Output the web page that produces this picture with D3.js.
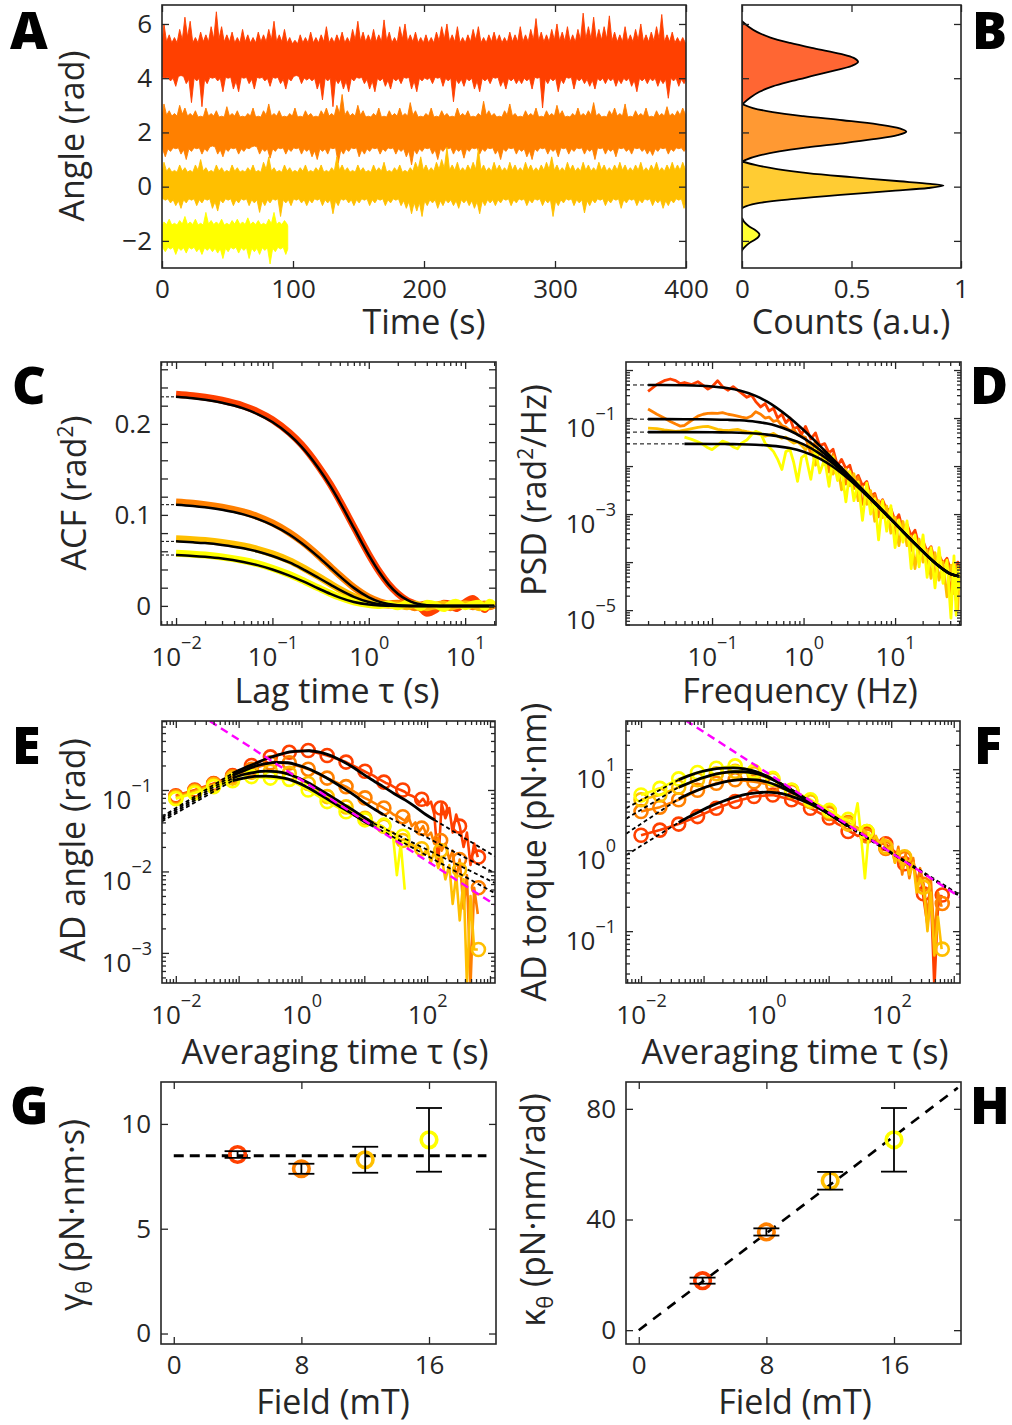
<!DOCTYPE html>
<html lang="en">
<head>
<meta charset="UTF-8">
<title>Angle fluctuations versus field</title>
<script src="https://d3js.org/d3.v7.min.js"></script>
<style>
  body { margin: 0; background: #fff; }
</style>
</head>
<body>
<script>
// one colour per field strength, red = 4 mT ... yellow = 16 mT
const seriesColors = ["#ff4000", "#ff8000", "#ffbf00", "#ffff00"];

// ---------- A: angle traces (rad), max / min in each 4 s window ----------
const traceRedHi = [6.0,5.6,5.5,5.8,6.25,6.1,5.5,5.7,5.6,5.9, 6.45,5.9,5.6,5.7,5.5,5.8,5.6,5.5,5.7,5.6,
  5.8,6.1,5.6,5.8,5.5,5.4,5.6,5.5,5.7,5.5, 5.6,5.9,5.5,5.6,5.7,5.5,5.8,6.1,5.7,5.6,
  5.8,5.6,6.15,5.7,5.5,5.9,6.0,5.6,5.7,5.5, 5.6,5.5,5.7,5.9,6.0,5.6,5.9,5.5,5.6,5.8,
  5.9,5.5,5.6,5.7,5.6,5.5,5.7,5.6,5.9,5.6, 5.8,6.2,5.7,5.6,5.8,6.0,5.7,5.9,5.6,5.8,
  6.4,5.9,6.25,5.8,5.9,6.3,5.7,5.6,5.9,5.6, 5.8,6.0,5.6,5.7,5.9,6.35,5.6,5.7,5.5,5.5];
const traceRedLo = [4.0,3.9,3.7,4.1,3.8,3.1,3.9,2.95,3.8,4.0, 3.9,3.5,4.0,3.6,3.5,4.0,3.8,3.6,4.0,3.9,
  3.7,4.0,3.8,3.6,3.9,4.1,3.8,3.93,3.9,3.6, 3.2,3.9,2.95,3.8,3.6,3.5,3.9,4.0,3.8,3.6,
  3.5,3.9,3.7,3.6,3.9,3.8,4.0,3.6,3.5,3.9, 3.95,3.8,4.0,3.7,3.9,3.13,3.8,3.7,3.9,3.6,
  3.5,3.9,3.8,4.0,3.7,3.6,3.9,3.8,3.8,3.9, 3.6,4.0,2.9,3.8,3.9,3.5,3.8,4.0,3.6,3.9,
  3.8,3.7,3.6,3.9,3.8,3.9,3.7,3.8,3.9,3.7, 3.5,3.9,3.8,3.9,3.7,3.8,3.26,3.9,3.7,3.8];
const traceOrangeHi = [3.05,2.8,2.7,3.0,2.9,2.7,2.8,2.6,2.9,2.7, 2.8,2.6,2.95,2.7,2.8,2.6,2.7,2.9,2.6,2.8,
  3.05,2.7,2.8,2.6,2.7,2.9,2.6,2.8,2.7,2.6, 2.8,2.9,2.7,3.0,3.4,2.8,2.7,3.0,2.8,2.6,
  2.7,2.9,2.6,2.8,2.7,2.9,2.7,3.1,2.8,2.6, 2.7,2.9,2.6,2.8,2.7,2.6,2.9,2.7,2.8,2.6,
  2.7,3.15,2.8,2.7,2.6,2.8,3.05,2.7,2.6,2.8, 2.7,2.9,2.6,2.8,2.7,3.0,2.8,2.6,2.7,2.9,
  2.7,2.8,3.1,2.7,2.6,2.8,2.9,2.7,3.05,2.6, 2.8,2.7,2.9,2.6,2.8,2.7,2.95,2.7,2.8,2.9];
const traceOrangeLo = [1.1,1.3,1.4,1.2,1.0,1.3,1.4,1.2,1.3,1.5, 1.2,1.1,1.3,1.4,1.2,1.3,1.4,1.5,1.2,1.3,
  1.05,1.3,1.4,1.2,1.3,1.4,1.2,1.3,1.1,1.0, 1.3,1.2,1.4,0.86,1.2,1.3,1.4,1.1,1.2,1.3,
  1.4,1.2,1.3,1.4,1.2,1.3,1.1,0.8,1.2,1.3, 1.4,1.2,1.0,1.3,1.4,1.2,1.3,1.05,1.3,1.4,
  1.2,1.3,1.4,1.2,1.0,1.3,1.4,1.2,1.3,1.1, 1.0,1.3,1.4,1.2,1.3,1.1,1.4,1.2,1.3,1.4,
  1.2,1.3,1.0,1.4,1.2,1.3,1.1,1.4,1.3,1.2, 1.4,1.3,1.2,1.15,1.3,1.4,1.2,1.3,1.4,1.3];
const traceAmberHi = [0.9,0.7,0.6,0.8,0.7,0.6,0.8,1.0,0.7,0.6, 0.8,0.7,0.6,0.8,0.7,0.6,0.7,0.8,0.6,0.9,
  1.1,0.7,0.6,0.8,0.7,0.6,0.7,0.8,0.6,0.7, 0.8,0.6,0.7,1.1,0.8,0.7,0.6,0.8,0.7,0.6,
  0.8,0.7,0.9,0.6,0.7,0.8,0.6,0.7,0.9,1.1, 0.8,0.7,0.9,1.0,1.45,0.8,0.9,0.7,0.8,0.9,
  1.4,0.8,0.7,0.9,0.8,0.7,0.9,0.8,0.7,0.9, 0.8,0.7,0.8,0.9,1.1,0.8,0.7,0.9,0.8,0.7,
  0.9,0.8,0.7,0.9,0.8,0.7,0.8,0.9,0.8,0.7, 0.8,0.9,0.7,0.8,0.9,0.7,0.8,0.9,0.8,0.9];
const traceAmberLo = [-0.5,-0.6,-0.7,-0.8,-0.6,-0.5,-0.7,-0.6,-0.5,-0.8, -0.9,-0.6,-0.5,-0.7,-0.6,-0.5,-0.7,-0.6,-0.95,-0.7,
  -0.6,-0.5,-1.1,-0.6,-0.7,-0.5,-0.6,-0.7,-0.6,-0.5, -0.7,-0.6,-1.0,-0.7,-0.5,-0.6,-0.7,-0.6,-0.5,-0.7,
  -0.6,-0.5,-0.7,-0.6,-0.5,-0.7,-0.8,-1.0,-0.9,-1.1, -0.7,-0.6,-0.8,-0.7,-0.6,-0.7,-0.8,-0.6,-0.7,-0.8,
  -1.0,-0.7,-0.6,-0.7,-0.6,-0.5,-0.7,-0.6,-0.5,-0.7, -0.6,-0.5,-0.7,-0.6,-1.1,-0.7,-0.6,-0.5,-0.7,-0.6,
  -0.97,-0.7,-0.6,-0.5,-0.7,-0.6,-0.5,-0.8,-0.6,-0.5, -0.7,-0.6,-0.5,-0.7,-0.6,-0.8,-0.7,-0.6,-0.5,-0.8];
const traceYellowHi = [-1.3,-1.2,-1.35,-1.25,-1.1,-1.3,-1.2,-1.35,-0.95,-1.25,-1.3,-1.2,
  -1.35,-1.25,-1.2,-1.3,-1.15,-1.3,-1.25,-1.35,-1.2,-0.95,-1.3,-1.25];
const traceYellowLo = [-2.4,-2.3,-2.5,-2.35,-2.45,-2.3,-2.4,-2.5,-2.35,-2.4,-2.45,-2.65,
  -2.4,-2.3,-2.45,-2.35,-2.65,-2.4,-2.5,-2.35,-2.85,-2.4,-2.3,-2.5];
// dense core of each trace [low, high]
const traceCore = [[4.05, 5.2], [1.45, 2.55], [-0.42, 0.5], [-2.2, -1.45]];

// ---------- B: angle histograms ----------
const histRedAngle = [6.1,5.9,5.7,5.5,5.3,5.1,4.9,4.75,4.6,4.45,4.3,4.1,3.9,3.7,3.5,3.3,3.1,3.0];
const histRedCount = [0,0.03,0.07,0.13,0.22,0.33,0.45,0.51,0.53,0.5,0.43,0.33,0.23,0.14,0.08,0.04,0.01,0];
const histOrangeAngle = [3.05,2.9,2.75,2.6,2.45,2.3,2.15,2.03,1.9,1.75,1.6,1.45,1.3,1.15,1.0,0.92];
const histOrangeCount = [0,0.05,0.14,0.28,0.46,0.62,0.72,0.75,0.71,0.6,0.46,0.3,0.17,0.08,0.02,0];
const histAmberAngle = [0.93,0.8,0.65,0.5,0.35,0.2,0.1,0.04,-0.05,-0.15,-0.3,-0.45,-0.6,-0.72,-0.8];
const histAmberCount = [0,0.06,0.16,0.3,0.5,0.72,0.86,0.92,0.85,0.7,0.45,0.24,0.08,0.02,0];
const histYellowAngle = [-1.15,-1.3,-1.45,-1.6,-1.7,-1.77,-1.85,-1.95,-2.1,-2.25,-2.35];
const histYellowCount = [0,0.01,0.03,0.06,0.075,0.08,0.075,0.06,0.03,0.01,0];

// ---------- C: autocorrelation (rad^2) ----------
const acfLag = [0.01,0.015,0.02,0.03,0.05,0.07,0.1,0.15,0.2,0.3,0.4,0.5,0.7,1,1.3,1.6,2,2.5,3,3.5,4,5,6,7,8,10,12,14,16,18,20];
const acfRed = [0.2326,0.231,0.2293,0.226,0.2197,0.2135,0.2046,0.1903,0.1774,0.1535,0.1335,0.1156,0.0868,0.0565,0.0369,0.024,
  0.0135,0.006,0.002,-0.003,-0.008,-0.004,0.003,0.002,-0.003,0.004,0.008,0.002,-0.004,0.003,0.0];
const acfOrange = [0.1141,0.1127,0.1113,0.1085,0.1032,0.0982,0.0911,0.0804,0.071,0.0553,0.043,0.0335,0.0203,0.0096,0.0045,0.0021,
  0.003,0.001,-0.002,0.001,0.002,-0.001,0.002,-0.002,0.001,0.002,-0.001,0.001,0.002,-0.001,0.001];
const acfAmber = [0.0739,0.0728,0.0718,0.0698,0.0659,0.0622,0.0571,0.0497,0.0429,0.0322,0.0242,0.0182,0.0103,0.0044,0.0019,0.0008,
  0.001,-0.001,0.002,0.0,-0.002,0.001,0.002,-0.001,0.0,0.002,0.001,-0.002,0.001,0.002,0.0];
const acfYellow = [0.0578,0.0568,0.0558,0.0538,0.0499,0.0464,0.0414,0.0344,0.0286,0.0198,0.0137,0.0094,0.0045,0.0015,0.0005,0.002,
  -0.001,0.003,0.001,-0.002,0.003,0.001,-0.003,0.002,0.004,-0.001,0.002,0.003,-0.002,0.004,0.001];
const acfFitRed = [0.2297,0.2281,0.2264,0.2232,0.217,0.2108,0.202,0.1881,0.1751,0.1516,0.1316,0.1141,0.0857,0.0558,0.0364,0.0237,
  0.0134,0.0066,0.0032,0.0016,0.0008,0.0002,0,0,0,0,0,0,0,0,0];
const acfFitOrange = [0.1112,0.1098,0.1084,0.1057,0.1006,0.0957,0.0888,0.0784,0.0691,0.0538,0.0419,0.0327,0.0198,0.0094,0.0044,0.0021,
  0.0008,0.0002,0,0,0,0,0,0,0,0,0,0,0,0,0];
const acfFitAmber = [0.0709,0.0699,0.069,0.067,0.0633,0.0598,0.0548,0.0477,0.0412,0.0309,0.0233,0.0175,0.0099,0.0042,0.0018,0.0008,
  0.0002,0,0,0,0,0,0,0,0,0,0,0,0,0,0];
const acfFitYellow = [0.0559,0.0549,0.0539,0.052,0.0482,0.0448,0.04,0.0332,0.0277,0.0191,0.0132,0.0091,0.0043,0.0015,0.0005,0.0002,
  0,0,0,0,0,0,0,0,0,0,0,0,0,0,0];
const acfTicks = [0,0.02,0.04,0.06,0.08,0.1,0.12,0.14,0.16,0.18,0.2,0.22,0.24,0.26];
const acfTickLabels = [0, 0.1, 0.2];

// ---------- D: power spectral density (rad^2/Hz) ----------
const psdFreq = [0.02,0.025,0.03,0.035,0.04,0.045,0.05,0.06,0.07,0.08,0.09,0.1,0.115,0.13,0.15,0.17,0.19,0.21,0.24,0.27,
  0.3,0.34,0.38,0.42,0.47,0.52,0.58,0.64,0.71,0.78,0.86,0.95,
  1.05,1.2,1.35,1.5,1.7,1.9,2.1,2.35,2.6,2.9,3.2,3.55,3.95,4.4,4.9,5.4,6.0,6.6,7.3,8.1,
  9.0,10,11,12.2,13.5,15,16.5,18.3,20.2,22.4,24.7,27.3,30.2,33.4,36.9,40.8,44,46.5,48.5,50];
const psdRed = [0.36,0.5,0.6,0.65,0.6,0.52,0.55,0.5,0.57,0.48,0.4,0.45,0.6,0.45,0.38,0.45,0.38,0.33,0.27,0.3,
  0.22,0.17,0.2,0.14,0.16,0.1,0.12,0.08,0.1,0.06,0.065,0.045,
  0.067,0.0365,0.049,0.0267,0.0294,0.0187,0.0224,0.0101,0.0138,0.0089,0.0104,0.005,0.0064,0.0039,0.0048,0.0024,0.0027,0.00147,0.002,0.0012,
  0.0013,7.2e-4,9.7e-4,4.4e-4,6.1e-4,3.5e-4,4.6e-4,2.2e-4,2.7e-4,1.66e-4,2.1e-4,9.8e-5,1.4e-4,9.4e-5,1.2e-4,6.3e-5,9.7e-5,6.2e-5,1.0e-4,7.1e-5];
const psdOrange = [0.154,0.12,0.1,0.085,0.075,0.068,0.07,0.09,0.11,0.12,0.125,0.127,0.125,0.13,0.12,0.115,0.11,0.105,0.1,0.11,
  0.135,0.12,0.1,0.105,0.085,0.09,0.07,0.065,0.055,0.058,0.045,0.042,
  0.0396,0.0181,0.0333,0.0174,0.0215,0.0075,0.0176,0.0093,0.0095,0.0042,0.0077,0.0034,0.0059,0.0016,0.0032,0.00175,0.0025,8.8e-4,0.00156,8.8e-4,
  0.0012,3.3e-4,6.5e-4,3.5e-4,5.8e-4,1.76e-4,3.2e-4,1.4e-4,2.5e-4,8.3e-5,1.6e-4,4.9e-5,1.33e-4,5.8e-5,8.2e-5,2.3e-5,8.1e-5,1.6e-5,6.1e-5,3.6e-5];
const psdAmber = [0.062,0.06,0.057,0.055,0.053,0.054,0.056,0.06,0.064,0.066,0.067,0.063,0.058,0.056,0.055,0.057,0.058,0.055,0.052,0.05,
  0.048,0.045,0.042,0.044,0.048,0.042,0.038,0.04,0.034,0.03,0.032,0.027,
  0.0217,0.0308,0.0104,0.0218,0.0108,0.0183,0.0068,0.0103,0.0032,0.0086,0.0039,0.0069,0.0019,0.0037,0.0016,0.0031,7.1e-4,0.0019,8.4e-4,0.00147,
  4.0e-4,8.5e-4,2.2e-4,7.0e-4,2.2e-4,3.5e-4,7.3e-5,3.0e-4,1.0e-4,1.8e-4,4.6e-5,1.57e-4,4.2e-5,1.0e-4,1.9e-5,8.6e-5,2.2e-5,6.8e-5,1.0e-5,5.6e-5];
const psdYellow = [null,null,null,null,null,null,0.04,0.036,0.032,0.028,0.024,0.022,0.027,0.033,0.03,0.025,0.023,0.03,0.035,0.045,
  0.053,0.048,0.03,0.025,0.02,0.014,0.0085,0.02,0.022,0.012,0.0048,0.015,
  0.0174,0.0053,0.0222,0.0072,0.0138,0.0038,0.0155,0.005,0.0086,0.0018,0.0077,0.0019,0.0047,7.4e-4,0.0044,0.001,0.0021,2.9e-4,0.0019,4.4e-4,
  0.0015,2.0e-4,7.6e-4,2.6e-4,7.2e-4,7.3e-5,3.7e-4,8.0e-5,3.7e-4,4.8e-5,2.0e-4,2.9e-5,2.0e-4,3.6e-5,1.1e-4,6.8e-6,1.35e-4,7.8e-6,8.2e-5,2.6e-5];
const psdFitFreq = [0.02,0.05,0.1,0.15,0.2,0.3,0.4,0.5,0.7,1,1.5,2,3,5,7,10,15,20,30,40,50];
const psdFitRed = [0.4885,0.4807,0.4549,0.4175,0.3744,0.2892,0.2193,0.1673,0.1025,0.0562,0.0267,0.01538,0.00696,0.002527,0.001293,6.42e-4,2.91e-4,1.69e-4,8.35e-5,5.73e-5,5.08e-5];
const psdFitOrange = [0.0949,0.0946,0.0936,0.0919,0.0897,0.0838,0.0767,0.0692,0.0549,0.0382,0.02185,0.01367,0.0066,0.002487,0.001286,6.42e-4,2.91e-4,1.69e-4,8.35e-5,5.73e-5,5.08e-5];
const psdFitAmber = [0.05098,0.0509,0.0506,0.0501,0.0494,0.0476,0.0452,0.0425,0.0366,0.0283,0.0182,0.01214,0.00622,0.002429,0.001269,6.37e-4,2.89e-4,1.68e-4,8.3e-5,5.7e-5,5.06e-5];
const psdFitYellow = [null,0.02897,0.02887,0.0287,0.02849,0.02786,0.027,0.02604,0.02372,0.01993,0.01434,0.01029,0.0057,0.002346,0.001246,6.32e-4,2.87e-4,1.67e-4,8.3e-5,5.7e-5,5.05e-5];

// ---------- E / F: Allan deviation, circles at octave averaging times ----------
const adTau = [0.01,0.02,0.04,0.08,0.16,0.32,0.64,1.28,2.56,5.12,10.24,20.48,40.96,81.92,163.84,327.68,655.36];
const adAngRed = [0.085,0.1,0.12,0.15,0.2,0.255,0.29,0.305,0.265,0.22,0.17,0.125,0.1,0.077,0.06,0.036,0.015];
const adAngOrange = [0.083,0.098,0.118,0.145,0.18,0.215,0.215,0.18,0.14,0.11,0.08,0.06,0.047,0.034,0.024,0.014,0.0063];
const adAngAmber = [0.08,0.095,0.115,0.14,0.165,0.17,0.16,0.12,0.083,0.062,0.045,0.036,0.024,0.019,0.018,0.0105,0.0011];
const adAngYellow = [0.078,0.092,0.11,0.13,0.146,0.14,0.135,0.1,0.072,0.054,0.043,0.037,0.027,null,null,null,null];
const adTorRed = [1.53,1.77,2.1,2.6,3.3,4.0,4.6,4.8,4.2,3.3,2.5,1.7,1.6,1.2,0.68,0.29,0.28];
const adTorOrange = [3.0,3.4,4.2,5.5,6.7,7.4,7.0,6.4,5.3,4.0,2.85,2.2,1.5,1.05,0.79,0.38,0.22];
const adTorAmber = [4.2,4.8,6.0,7.4,8.8,9.4,8.8,7.5,5.5,4.0,3.0,2.1,1.7,1.1,0.83,0.35,0.06];
const adTorYellow = [4.8,5.8,7.6,9.1,10.3,11,9.4,7.7,5.5,4.2,3.1,2.4,1.7,null,null,null,null];

// dense deviation curve at long averaging times
const adLineTau = [10,12,14,16,19,22,25,29,33,38,44,50,57,65,75,86,100,115,130,150,170,195,225,255,290,330,380,430,490,560,640];
const adAngRedLine = [0.17,0.158,0.15,0.14,0.13,0.122,0.118,0.11,0.104,0.1,0.095,0.088,0.085,0.08,0.07,0.078,0.065,0.072,0.05,0.012,
  0.068,0.045,0.06,0.03,0.05,0.036,0.02,0.03,0.012,0.022,0.015];
const adAngOrangeLine = [0.08,0.075,0.07,0.066,0.062,0.058,0.055,0.05,0.048,0.045,0.042,0.048,0.036,0.04,0.031,0.036,0.027,0.03,0.022,0.026,
  0.018,0.022,0.014,0.018,0.008,0.014,0.0035,0.009,0.0004,0.0063,0.003];
const adAngAmberLine = [0.045,0.043,0.04,0.038,0.036,0.033,0.031,0.03,0.026,0.024,0.025,0.02,0.022,0.019,0.02,0.016,0.019,0.013,0.018,0.011,
  0.015,0.008,0.012,0.004,0.009,0.0025,0.008,0.0004,0.005,0.0011,0.0011];
const adAngYellowLine = [0.043,0.041,0.038,0.037,0.036,0.033,0.03,0.025,0.009,0.022,0.006];
const adTorRedLine = [2.5,2.3,2.1,2.0,1.8,1.7,1.6,1.5,1.55,1.6,1.5,1.4,1.3,1.25,1.2,1.15,1.05,0.95,0.9,0.7,
  0.85,0.6,0.75,0.4,0.55,0.25,0.12,0.3,0.02,0.2,0.28];
const adTorOrangeLine = [2.85,2.7,2.5,2.35,2.2,2.1,2.0,1.9,1.7,1.6,1.5,1.3,1.4,1.1,1.3,1.0,1.2,0.7,1.1,0.5,
  0.9,0.45,0.8,0.35,0.6,0.38,0.15,0.45,0.08,0.3,0.2];
const adTorAmberLine = [3.0,2.8,2.6,2.45,2.3,2.1,2.0,1.8,1.9,1.7,1.6,1.3,1.5,1.2,1.4,1.0,1.1,0.7,1.0,0.6,
  0.8,0.5,0.7,0.3,0.45,0.35,0.1,0.3,0.05,0.15,0.06];
const adTorYellowLine = [3.1,2.9,2.7,2.5,2.4,2.3,2.2,3.8,1.5,0.45,1.7];

// model fits
const adAngFitTau = [0.08,0.12,0.18,0.27,0.4,0.6,0.9,1.35,2,3,4.5,7,10,14,20,30,45,65,95,130];
const adAngFitRed = [0.16,0.185,0.21,0.24,0.265,0.29,0.3,0.303,0.29,0.262,0.225,0.185,0.153,0.13,0.11,0.09,0.075,0.062,0.05,0.043];
const adAngFitOrange = [0.15,0.172,0.195,0.21,0.218,0.216,0.2,0.18,0.155,0.13,0.107,0.086,0.07,0.059,0.05];
const adAngFitAmber = [0.14,0.155,0.165,0.17,0.168,0.158,0.14,0.12,0.1,0.083,0.068,0.055,0.046,0.039];
const adAngFitYellow = [0.13,0.14,0.147,0.148,0.145,0.137,0.122,0.104,0.087,0.072,0.06,0.049,0.041,0.036];
const adTorFitTau = [0.04,0.06,0.09,0.13,0.2,0.3,0.45,0.7,1,1.5,2.2,3.3,5,7.5,11,16,20];
const adTorFitRed = [2.2,2.6,3.05,3.5,4.0,4.45,4.85,5.1,5.2,5.1,4.8,4.3,3.75,3.2,2.7,2.25,2.05];
const adTorFitOrange = [4.3,5.0,5.7,6.3,6.9,7.3,7.5,7.4,7.0,6.3,5.5,4.7,3.9,3.25,2.7,2.25,2.0];
const adTorFitAmber = [6.0,6.8,7.7,8.4,9.0,9.3,9.3,8.8,8.1,7.0,5.9,4.9,4.0,3.3,2.7,2.25,2.0];
const adTorFitYellow = [7.4,8.4,9.3,9.9,10.3,10.4,10.1,9.3,8.3,7.0,5.9,4.9,4.0,3.3,2.7,2.25,2.0];

// asymptotes: [start, end] averaging times and values
const adAngShortTau = [0.006, 0.08];
const adAngShort = [[0.047,0.16],[0.045,0.15],[0.043,0.14],[0.041,0.13]];
const adAngLongTau = [[130,1200],[20,1200],[14,1200],[14,1200]];
const adAngLong = [[0.043,0.0153],[0.05,0.0095],[0.039,0.0072],[0.036,0.0054]];
const adTorShortTau = [0.0058, 0.04];
const adTorShort = [[0.87,2.2],[1.6,4.3],[2.45,6.0],[3.3,7.4]];
const adTorLongTau = [20, 1260];
const adTorLong = [[2.05,0.28],[2.0,0.27],[2.0,0.27],[2.0,0.27]];
const adAngLimitTau = [0.035, 1200], adAngLimit = [0.70, 0.0039];
const adTorLimitTau = [0.052, 1260], adTorLimit = [40, 0.264];

// ---------- G / H: fitted drag and stiffness versus field ----------
const fieldMT = [4, 8, 12, 16];
const gamma = [8.54, 7.86, 8.29, 9.24];
const gammaErr = [0.16, 0.24, 0.62, 1.52];
const gammaMean = 8.48;
const kappa = [17.9, 35.5, 54, 68.8];
const kappaErr = [1.1, 1.3, 3.2, 11.5];
const kappaFitField = [0, 20], kappaFit = [0, 87.6];

// ======================================================================
const ink = "#262626";
const FONT = "'Open Sans', 'Noto Sans', sans-serif";
const svg = d3.select("body").append("svg")
  .attr("width", 1012).attr("height", 1425)
  .style("display", "block").style("font-family", FONT);
const defs = svg.append("defs");

function panel(id, left, top, right, bottom) {
  const w = right - left, h = bottom - top;
  defs.append("clipPath").attr("id", "clip" + id)
    .append("rect").attr("width", w).attr("height", h);
  const g = svg.append("g").attr("transform", `translate(${left},${top})`);
  const plot = g.append("g").attr("clip-path", `url(#clip${id})`);
  return { g, plot, w, h };
}

function logTicks(scale) {
  const [a, b] = scale.domain();
  const major = [], minor = [];
  for (let e = Math.floor(Math.log10(a)); e <= Math.ceil(Math.log10(b)); e++) {
    for (let k = 1; k <= 9; k++) {
      const v = k * Math.pow(10, e);
      if (v < a || v > b) continue;
      (k === 1 ? major : minor).push(v);
    }
  }
  return { major, minor };
}

function powFormat(exps) {
  return d => exps.includes(Math.round(Math.log10(d))) ? "p" : "";
}

function expLabels(sel) {
  sel.each(function (d) {
    const t = d3.select(this);
    if (t.text() === "") return;
    const e = Math.round(Math.log10(d));
    t.text(null);
    t.append("tspan").text("10");
    t.append("tspan").attr("dy", -17).attr("font-size", 18)
      .text(e < 0 ? "\u2212" + (-e) : String(e));
  });
}

function axes(p, sx, sy, o) {
  const TL = 7, TM = 4;
  const ax = p.g.append("g");
  const xb = ax.append("g").attr("transform", `translate(0,${p.h})`)
    .call(d3.axisBottom(sx).tickValues(o.xTicks).tickSize(-TL)
      .tickPadding(o.xLog ? 23 : 12).tickFormat(o.xFmt));
  ax.append("g").call(d3.axisTop(sx).tickValues(o.xTicks).tickSize(-TL).tickFormat(""));
  const yl = ax.append("g")
    .call(d3.axisLeft(sy).tickValues(o.yTicks).tickSize(-TL).tickPadding(10).tickFormat(o.yFmt));
  ax.append("g").attr("transform", `translate(${p.w},0)`)
    .call(d3.axisRight(sy).tickValues(o.yTicks).tickSize(-TL).tickFormat(""));
  if (o.xMinor) {
    ax.append("g").attr("transform", `translate(0,${p.h})`)
      .call(d3.axisBottom(sx).tickValues(o.xMinor).tickSize(-TM).tickFormat(""));
    ax.append("g").call(d3.axisTop(sx).tickValues(o.xMinor).tickSize(-TM).tickFormat(""));
  }
  if (o.yMinor) {
    ax.append("g").call(d3.axisLeft(sy).tickValues(o.yMinor).tickSize(-TM).tickFormat(""));
    ax.append("g").attr("transform", `translate(${p.w},0)`)
      .call(d3.axisRight(sy).tickValues(o.yMinor).tickSize(-TM).tickFormat(""));
  }
  ax.selectAll(".domain").remove();
  ax.selectAll(".tick line").attr("stroke", ink).attr("stroke-width", 1.3);
  ax.selectAll(".tick text").attr("font-family", FONT).attr("font-size", 26).attr("fill", ink);
  if (o.xLog) expLabels(xb.selectAll(".tick text"));
  if (o.yLog) {
    expLabels(yl.selectAll(".tick text"));
    yl.selectAll(".tick text").attr("dy", "0.7em");
  }
  p.g.append("rect").attr("width", p.w).attr("height", p.h)
    .attr("fill", "none").attr("stroke", ink).attr("stroke-width", 1.6);
}

function drawLine(plot, sx, sy, xs, ys, stroke, width, dash, curve) {
  const pts = xs.map((x, i) => [x, ys[i]]);
  plot.append("path")
    .attr("d", d3.line().defined(d => d[1] != null).curve(curve || d3.curveLinear)
      .x(d => sx(d[0])).y(d => sy(d[1]))(pts))
    .attr("fill", "none").attr("stroke", stroke).attr("stroke-width", width)
    .attr("stroke-linejoin", "round").attr("stroke-dasharray", dash || null);
}

function title(x, y, html, rotate) {
  svg.append("text").attr("transform", `translate(${x},${y})` + (rotate ? " rotate(-90)" : ""))
    .attr("text-anchor", "middle").attr("font-size", 34).attr("fill", ink).html(html);
}

// ---------------- A ----------------
const pA = panel("A", 162, 5, 686, 268);
const xA = d3.scaleLinear().domain([0, 400]).range([0, pA.w]);
const yA = d3.scaleLinear().domain([-3, 6.7]).range([pA.h, 0]);
const traceT = d3.range(0, 400, 4);
[[traceRedHi, traceRedLo], [traceOrangeHi, traceOrangeLo], [traceAmberHi, traceAmberLo], [traceYellowHi, traceYellowLo]]
  .forEach(([hi, lo], k) => {
    // dense core plus a needle at every window maximum / minimum
    const [c0, c1] = traceCore[k];
    const n = hi.length, tEnd = traceT[n - 1] + 4;
    const upper = [[0, c1]], lower = [[0, c0]];
    hi.forEach((v, i) => {
      const nb = i + 1 < n ? Math.min(v, hi[i + 1]) : v;
      upper.push([traceT[i] + 1.5, v], [Math.min(traceT[i] + 3.5, tEnd), c1 + 0.35 * (nb - c1)]);
    });
    lo.forEach((v, i) => {
      const nb = i + 1 < n ? Math.max(v, lo[i + 1]) : v;
      lower.push([traceT[i] + 2.5, v], [Math.min(traceT[i] + 4.5, tEnd), c0 - 0.35 * (c0 - nb)]);
    });
    upper.push([tEnd, c1]);
    lower.push([tEnd, c0]);
    const pts = upper.concat(lower.reverse());
    pA.plot.append("path")
      .attr("d", d3.line().x(d => xA(d[0])).y(d => yA(d[1]))(pts) + "Z")
      .attr("fill", seriesColors[k]).attr("stroke", seriesColors[k])
      .attr("stroke-width", 0.9).attr("stroke-linejoin", "round");
  });
axes(pA, xA, yA, { xTicks: [0, 100, 200, 300, 400], xFmt: d3.format("d"),
  yTicks: [-2, 0, 2, 4, 6], yFmt: d3.format("d") });

// ---------------- B ----------------
const pB = panel("B", 742, 5, 961, 268);
const xB = d3.scaleLinear().domain([0, 1]).range([0, pB.w]);
const yB = d3.scaleLinear().domain([-3, 6.7]).range([pB.h, 0]);
[[histRedAngle, histRedCount], [histOrangeAngle, histOrangeCount], [histAmberAngle, histAmberCount], [histYellowAngle, histYellowCount]]
  .forEach(([ang, cnt], k) => {
    const pts = ang.map((a, i) => [cnt[i], a]);
    pB.plot.append("path")
      .attr("d", d3.line().curve(d3.curveCatmullRom).x(d => xB(d[0])).y(d => yB(d[1]))(pts) + "Z")
      .attr("fill", seriesColors[k]).attr("fill-opacity", 0.8)
      .attr("stroke", "#000").attr("stroke-width", 1.8);
  });
axes(pB, xB, yB, { xTicks: [0, 0.5, 1], xFmt: d3.format("~g"),
  yTicks: [-2, 0, 2, 4, 6], yFmt: () => "" });

// ---------------- C ----------------
const pC = panel("C", 161, 362, 496, 625);
const xC = d3.scaleLog().domain([0.00698, 20.9]).range([0, pC.w]);
const yC = d3.scaleLinear().domain([-0.021, 0.268]).range([pC.h, 0]);
const acfData = [acfRed, acfOrange, acfAmber, acfYellow];
const acfFits = [acfFitRed, acfFitOrange, acfFitAmber, acfFitYellow];
acfData.forEach((s, k) => drawLine(pC.plot, xC, yC, acfLag, s, seriesColors[k], 7, null, d3.curveMonotoneX));
acfFits.forEach(s => {
  drawLine(pC.plot, xC, yC, acfLag, s, "#000", 2.5, null, d3.curveMonotoneX);
  drawLine(pC.plot, xC, yC, [xC.domain()[0], acfLag[0]], [s[0], s[0]], "#000", 1, "3,2");
});
const lC = logTicks(xC);
axes(pC, xC, yC, { xTicks: lC.major, xMinor: lC.minor, xLog: true, xFmt: powFormat([-2, -1, 0, 1]),
  yTicks: acfTicks, yFmt: d => acfTickLabels.includes(d) ? String(d) : "" });

// ---------------- D ----------------
const pD = panel("D", 626, 362, 961, 625);
const xD = d3.scaleLog().domain([0.01148, 52.5]).range([0, pD.w]);
const yD = d3.scaleLog().domain([4.9e-6, 1.47]).range([pD.h, 0]);
[psdRed, psdOrange, psdAmber, psdYellow].forEach((s, k) =>
  drawLine(pD.plot, xD, yD, psdFreq, s, seriesColors[k], 2.8));
[psdFitRed, psdFitOrange, psdFitAmber, psdFitYellow].forEach(s => {
  drawLine(pD.plot, xD, yD, psdFitFreq, s, "#000", 2.6, null, d3.curveMonotoneX);
  const i0 = s.findIndex(v => v != null);
  drawLine(pD.plot, xD, yD, [xD.domain()[0], psdFitFreq[i0]], [s[i0], s[i0]], "#000", 1, "4,3");
});
const lDx = logTicks(xD), lDy = logTicks(yD);
axes(pD, xD, yD, { xTicks: lDx.major, xMinor: lDx.minor, xLog: true, xFmt: powFormat([-1, 0, 1]),
  yTicks: lDy.major, yMinor: lDy.minor, yLog: true, yFmt: powFormat([-1, -3, -5]) });

// ---------------- E / F helpers ----------------
function adSeries(circ, line) {
  const xs = [], ys = [];
  adTau.forEach((t, i) => { if (t < 10 && circ[i] != null) { xs.push(t); ys.push(circ[i]); } });
  adLineTau.forEach((t, i) => { xs.push(t); ys.push(line[i]); });
  return [xs, ys];
}
function adPanel(p, sx, sy, circles, lines) {
  circles.forEach((c, k) => {
    const [xs, ys] = adSeries(c, lines[k]);
    drawLine(p.plot, sx, sy, xs, ys, seriesColors[k], 2.6);
    p.plot.append("g").selectAll("circle")
      .data(adTau.map((t, i) => [t, c[i]]).filter(d => d[1] != null))
      .join("circle")
      .attr("cx", d => sx(d[0])).attr("cy", d => sy(d[1])).attr("r", 6.5)
      .attr("fill", "none").attr("stroke", seriesColors[k]).attr("stroke-width", 2.6);
  });
}

// ---------------- E ----------------
const pE = panel("E", 162, 721, 495, 983);
const xE = d3.scaleLog().domain([0.00603, 1202]).range([0, pE.w]);
const yE = d3.scaleLog().domain([4.27e-4, 0.703]).range([pE.h, 0]);
adPanel(pE, xE, yE, [adAngRed, adAngOrange, adAngAmber, adAngYellow],
  [adAngRedLine, adAngOrangeLine, adAngAmberLine, adAngYellowLine]);
[adAngFitRed, adAngFitOrange, adAngFitAmber, adAngFitYellow].forEach((s, k) => {
  drawLine(pE.plot, xE, yE, adAngFitTau, s, "#000", 2.8, null, d3.curveMonotoneX);
  drawLine(pE.plot, xE, yE, adAngShortTau, adAngShort[k], "#000", 1.8, "4,3");
  drawLine(pE.plot, xE, yE, adAngLongTau[k], adAngLong[k], "#000", 1.8, "4,3");
});
drawLine(pE.plot, xE, yE, adAngLimitTau, adAngLimit, "#ff00ff", 2.4, "8,5");
const lEx = logTicks(xE), lEy = logTicks(yE);
axes(pE, xE, yE, { xTicks: lEx.major, xMinor: lEx.minor, xLog: true, xFmt: powFormat([-2, 0, 2]),
  yTicks: lEy.major, yMinor: lEy.minor, yLog: true, yFmt: powFormat([-1, -2, -3]) });

// ---------------- F ----------------
const pF = panel("F", 626, 721, 960, 983);
const xF = d3.scaleLog().domain([0.00575, 1259]).range([0, pF.w]);
const yF = d3.scaleLog().domain([0.0229, 39.4]).range([pF.h, 0]);
adPanel(pF, xF, yF, [adTorRed, adTorOrange, adTorAmber, adTorYellow],
  [adTorRedLine, adTorOrangeLine, adTorAmberLine, adTorYellowLine]);
[adTorFitRed, adTorFitOrange, adTorFitAmber, adTorFitYellow].forEach((s, k) => {
  drawLine(pF.plot, xF, yF, adTorFitTau, s, "#000", 2.8, null, d3.curveMonotoneX);
  drawLine(pF.plot, xF, yF, adTorShortTau, adTorShort[k], "#000", 1.8, "4,3");
  drawLine(pF.plot, xF, yF, adTorLongTau, adTorLong[k], "#000", 1.8, "4,3");
});
drawLine(pF.plot, xF, yF, adTorLimitTau, adTorLimit, "#ff00ff", 2.4, "8,5");
const lFx = logTicks(xF), lFy = logTicks(yF);
axes(pF, xF, yF, { xTicks: lFx.major, xMinor: lFx.minor, xLog: true, xFmt: powFormat([-2, 0, 2]),
  yTicks: lFy.major, yMinor: lFy.minor, yLog: true, yFmt: powFormat([1, 0, -1]) });

// ---------------- G / H ----------------
function fieldPanel(p, sx, sy, vals, errs) {
  fieldMT.forEach((f, k) => {
    p.plot.append("circle").attr("cx", sx(f)).attr("cy", sy(vals[k])).attr("r", 7.8)
      .attr("fill", "none").attr("stroke", seriesColors[k]).attr("stroke-width", 3.6);
  });
  const eb = p.plot.append("g").attr("stroke", "#000").attr("stroke-width", 1.8);
  fieldMT.forEach((f, k) => {
    const x = sx(f), y0 = sy(vals[k] - errs[k]), y1 = sy(vals[k] + errs[k]);
    eb.append("line").attr("x1", x).attr("x2", x).attr("y1", y0).attr("y2", y1);
    eb.append("line").attr("x1", x - 13).attr("x2", x + 13).attr("y1", y0).attr("y2", y0);
    eb.append("line").attr("x1", x - 13).attr("x2", x + 13).attr("y1", y1).attr("y2", y1);
  });
}

const pG = panel("G", 161, 1082, 496, 1344);
const xG = d3.scaleLinear().domain([-0.8, 20.2]).range([0, pG.w]);
const yG = d3.scaleLinear().domain([-0.5, 12]).range([pG.h, 0]);
drawLine(pG.plot, xG, yG, [0, 19.6], [gammaMean, gammaMean], "#000", 3, "10,6");
fieldPanel(pG, xG, yG, gamma, gammaErr);
axes(pG, xG, yG, { xTicks: [0, 8, 16], xFmt: d3.format("d"), yTicks: [0, 5, 10], yFmt: d3.format("d") });

const pH = panel("H", 626, 1082, 961, 1344);
const xH = d3.scaleLinear().domain([-0.8, 20.2]).range([0, pH.w]);
const yH = d3.scaleLinear().domain([-5, 89.7]).range([pH.h, 0]);
drawLine(pH.plot, xH, yH, kappaFitField, kappaFit, "#000", 2.6, "10,8");
fieldPanel(pH, xH, yH, kappa, kappaErr);
axes(pH, xH, yH, { xTicks: [0, 8, 16], xFmt: d3.format("d"), yTicks: [0, 40, 80], yFmt: d3.format("d") });

// ---------------- titles ----------------
const sup = s => `<tspan dy="-13" font-size="21">${s}</tspan><tspan dy="13">`;
title(424, 334, "Time (s)");
title(851, 334, "Counts (a.u.)");
title(84, 136, "Angle (rad)", true);
title(337, 703, "Lag time \u03c4 (s)");
title(86, 493, `ACF (rad${sup("2")})</tspan>`, true);
title(800, 703, "Frequency (Hz)");
title(546, 490, `PSD (rad${sup("2")}/Hz)</tspan>`, true);
title(335, 1064, "Averaging time \u03c4 (s)");
title(85, 850, "AD angle (rad)", true);
title(795, 1064, "Averaging time \u03c4 (s)");
title(546, 852, "AD torque (pN\u00b7nm)", true);
title(333, 1414, "Field (mT)");
title(84, 1215, `\u03b3<tspan dy="8" font-size="22">\u03b8</tspan><tspan dy="-8"> (pN\u00b7nm\u00b7s)</tspan>`, true);
title(795, 1414, "Field (mT)");
title(545, 1210, `\u03ba<tspan dy="8" font-size="22">\u03b8</tspan><tspan dy="-8"> (pN\u00b7nm/rad)</tspan>`, true);

// panel letters
[["A", 10, 49], ["B", 972, 49], ["C", 12, 404], ["D", 970, 404],
 ["E", 12, 764], ["F", 974, 764], ["G", 10, 1124], ["H", 970, 1124]]
  .forEach(([t, x, y]) => svg.append("text").attr("x", x).attr("y", y)
    .attr("font-size", 52).attr("font-weight", 800).attr("fill", "#000").text(t));
</script>
</body>
</html>
